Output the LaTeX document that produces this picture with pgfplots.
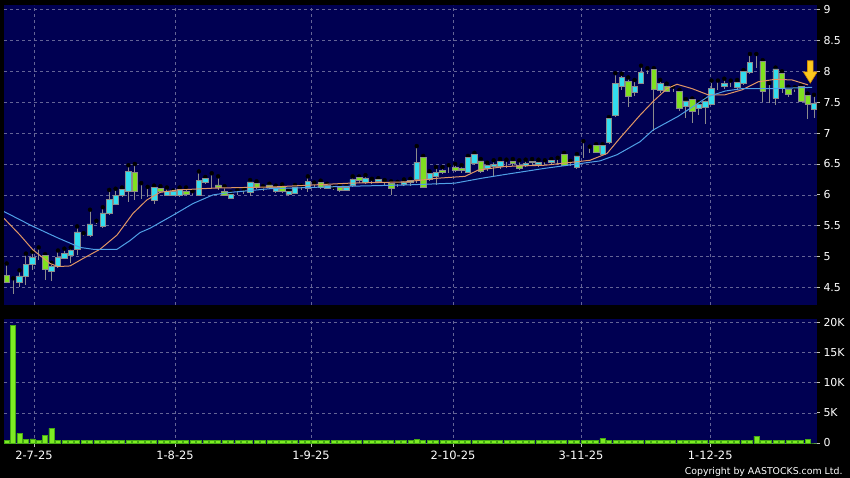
\documentclass[border=0pt]{standalone}
\usepackage{pgfplots}
\pgfplotsset{compat=1.18}
\usepackage{pgfplotstable}
\usepackage{fontspec}
\setmainfont{DejaVu Sans}

\definecolor{navybg}{RGB}{0,0,82}
\definecolor{gridcol}{RGB}{100,100,150}
\definecolor{upcol}{RGB}{51,221,238}
\definecolor{dncol}{RGB}{128,224,32}
\definecolor{edgegray}{RGB}{140,140,140}
\definecolor{wickgray}{RGB}{140,140,140}
\definecolor{tickcol}{RGB}{190,190,190}
\definecolor{maten}{RGB}{225,150,100}
\definecolor{matwenty}{RGB}{80,160,230}
\definecolor{volgreen}{RGB}{125,235,35}
\definecolor{voledge}{RGB}{70,170,20}
\definecolor{arrowfill}{RGB}{250,200,30}
\definecolor{arrowedge}{RGB}{215,140,0}

% daily candles: index, open, high, low, close
\pgfplotstableread{
i o h l c
0 4.70 4.89 4.57 4.59
1 4.57 4.65 4.40 4.57
2 4.59 4.78 4.51 4.69
3 4.69 5.05 4.54 4.88
4 4.88 5.08 4.78 4.99
5 5.02 5.15 4.95 5.02
6 5.02 5.04 4.62 4.80
7 4.76 4.90 4.61 4.84
8 4.84 5.10 4.82 4.99
9 4.98 5.13 4.96 5.05
10 5.02 5.15 4.90 5.10
11 5.12 5.49 5.02 5.40
12 5.35 5.38 5.33 5.35
13 5.34 5.76 5.32 5.53
14 5.55 5.58 5.53 5.55
15 5.49 5.80 5.47 5.71
16 5.70 6.08 5.68 5.93
17 5.85 6.10 5.83 5.99
18 5.99 6.12 5.97 6.09
19 6.06 6.48 5.89 6.38
20 6.37 6.50 5.92 6.06
21 6.05 6.19 5.94 6.05
22 6.03 6.13 5.97 6.03
23 5.91 6.15 5.86 6.12
24 6.11 6.14 6.04 6.06
25 6.00 6.12 5.98 6.05
26 6.00 6.07 5.98 6.05
27 6.00 6.12 5.97 6.09
28 6.06 6.12 5.99 6.01
29 6.03 6.06 6.00 6.03
30 6.00 6.38 5.98 6.23
31 6.20 6.29 6.18 6.27
32 6.19 6.35 6.11 6.19
33 6.16 6.30 6.08 6.12
34 6.06 6.14 5.98 6.00
35 5.95 6.04 5.93 6.01
36 6.04 6.08 6.00 6.04
37 6.05 6.10 6.02 6.05
38 6.04 6.24 5.98 6.21
39 6.18 6.22 6.10 6.12
40 6.10 6.14 6.07 6.10
41 6.16 6.18 6.10 6.13
42 6.05 6.15 6.03 6.12
43 6.14 6.17 6.03 6.06
44 6.01 6.08 5.98 6.06
45 6.03 6.16 6.01 6.13
46 6.13 6.15 6.08 6.13
47 6.11 6.30 6.05 6.22
48 6.16 6.20 6.12 6.16
49 6.20 6.23 6.10 6.12
50 6.11 6.18 6.09 6.15
51 6.11 6.13 6.08 6.11
52 6.12 6.15 6.05 6.08
53 6.08 6.14 6.06 6.12
54 6.15 6.30 6.13 6.25
55 6.28 6.30 6.20 6.24
56 6.20 6.32 6.18 6.27
57 6.21 6.26 6.18 6.21
58 6.22 6.27 6.19 6.25
59 6.20 6.24 6.15 6.20
60 6.18 6.22 6.00 6.11
61 6.17 6.21 6.12 6.17
62 6.17 6.25 6.14 6.21
63 6.20 6.26 6.15 6.24
64 6.25 6.79 6.20 6.53
65 6.61 6.63 6.12 6.13
66 6.25 6.38 6.22 6.35
67 6.30 6.45 6.16 6.37
68 6.40 6.45 6.34 6.37
69 6.42 6.48 6.36 6.42
70 6.45 6.50 6.37 6.39
71 6.43 6.48 6.35 6.40
72 6.37 6.63 6.35 6.61
73 6.51 6.68 6.49 6.66
74 6.55 6.58 6.36 6.38
75 6.43 6.52 6.38 6.48
76 6.46 6.56 6.29 6.49
77 6.46 6.58 6.42 6.54
78 6.49 6.57 6.44 6.49
79 6.54 6.58 6.46 6.51
80 6.48 6.56 6.40 6.43
81 6.48 6.57 6.45 6.51
82 6.54 6.58 6.47 6.52
83 6.50 6.57 6.45 6.53
84 6.52 6.56 6.48 6.52
85 6.53 6.58 6.50 6.56
86 6.52 6.60 6.49 6.52
87 6.66 6.68 6.46 6.48
88 6.51 6.55 6.46 6.51
89 6.44 6.66 6.42 6.63
90 6.66 6.87 6.60 6.66
91 6.74 6.78 6.68 6.74
92 6.80 6.82 6.67 6.69
93 6.66 6.82 6.64 6.80
94 6.85 7.26 6.83 7.24
95 7.28 7.97 7.26 7.81
96 7.75 7.96 7.70 7.90
97 7.84 7.90 7.43 7.59
98 7.66 7.86 7.60 7.76
99 7.81 8.09 7.79 7.98
100 8.02 8.05 7.95 8.02
101 8.03 8.05 7.03 7.71
102 7.70 7.86 7.65 7.81
103 7.76 7.80 7.66 7.68
104 7.70 7.75 7.66 7.70
105 7.67 7.70 7.35 7.40
106 7.43 7.55 7.25 7.52
107 7.54 7.56 7.16 7.36
108 7.40 7.50 7.30 7.47
109 7.42 7.56 7.15 7.51
110 7.47 7.85 7.45 7.72
111 7.77 7.85 7.70 7.77
112 7.76 7.88 7.72 7.81
113 7.79 7.85 7.74 7.79
114 7.74 7.86 7.70 7.82
115 7.81 8.02 7.78 8.00
116 7.99 8.28 7.95 8.14
117 8.15 8.28 8.05 8.15
118 8.16 8.18 7.51 7.68
119 7.62 7.81 7.48 7.62
120 7.56 8.06 7.45 8.04
121 7.97 8.00 7.65 7.72
122 7.71 7.75 7.58 7.62
123 7.71 7.74 7.66 7.71
124 7.75 7.77 7.50 7.51
125 7.61 7.64 7.22 7.47
126 7.38 7.62 7.24 7.48
}\ohlc

% volume (shares)
\pgfplotstableread{
i v
0 400
1 19500
2 1600
3 600
4 700
5 380
6 1270
7 2430
8 380
9 380
10 380
11 380
12 380
13 380
14 380
15 380
16 380
17 380
18 380
19 380
20 380
21 380
22 380
23 380
24 380
25 380
26 380
27 380
28 380
29 380
30 380
31 380
32 380
33 380
34 380
35 380
36 380
37 380
38 380
39 380
40 380
41 380
42 380
43 380
44 380
45 380
46 380
47 380
48 380
49 380
50 380
51 380
52 380
53 380
54 380
55 380
56 380
57 380
58 380
59 380
60 380
61 380
62 380
63 380
64 600
65 450
66 380
67 380
68 380
69 380
70 380
71 380
72 380
73 380
74 380
75 380
76 380
77 380
78 380
79 380
80 380
81 380
82 380
83 380
84 380
85 380
86 380
87 380
88 380
89 380
90 380
91 380
92 380
93 710
94 380
95 380
96 380
97 380
98 380
99 380
100 380
101 380
102 380
103 380
104 380
105 380
106 380
107 380
108 380
109 380
110 380
111 380
112 380
113 380
114 380
115 380
116 380
117 1160
118 380
119 380
120 380
121 380
122 380
123 380
124 380
125 610
126 0
}\vol

% moving averages
\pgfplotstableread{
i m
-0.42 5.62
2.08 5.35
4.10 5.11
6.76 4.89
8.01 4.84
9.88 4.85
11.91 4.97
14.56 5.12
17.22 5.35
19.71 5.70
21.90 5.92
23.92 6.04
26.74 6.08
32.51 6.11
41.88 6.13
53.58 6.19
62.17 6.21
67.32 6.27
71.53 6.30
73.56 6.40
77.77 6.46
84.02 6.48
91.04 6.56
93.70 6.67
95.72 6.92
98.85 7.29
100.88 7.51
103.06 7.72
104.62 7.79
106.96 7.72
109.46 7.62
112.11 7.62
114.77 7.70
117.27 7.83
119.92 7.87
122.57 7.86
125.07 7.78
}\maten

\pgfplotstableread{
i m
-0.42 5.73
4.10 5.49
7.85 5.31
11.44 5.15
13.47 5.12
17.22 5.12
19.24 5.26
20.80 5.39
22.37 5.46
25.95 5.67
29.08 5.86
32.20 6.00
34.85 6.04
41.10 6.10
53.58 6.14
62.17 6.16
69.97 6.19
74.18 6.27
77.77 6.33
84.02 6.43
92.60 6.55
95.26 6.65
98.85 6.86
100.88 7.05
104.78 7.27
109.46 7.59
112.11 7.68
114.77 7.72
119.92 7.72
125.69 7.74
}\matwenty

\pgfplotsset{
  panel/.style={scale only axis, width=813bp, anchor=south west,
    xmin=-0.42, xmax=126.47},
  pricepanel/.style={panel, at={(4bp,173bp)}, height=300bp,
    ymin=4.218, ymax=9.073},
}

\begin{document}
\begin{tikzpicture}
\path[use as bounding box, fill=black] (0,0) rectangle (850bp,478bp);

% price panel: background, grid, wicks
\begin{axis}[pricepanel,
  axis background/.style={fill=navybg},
  axis line style={draw=none},
  xtick={4.26,26.27,47.5,69.66,89.64,109.8}, xticklabels={},
  xtick style={draw=none},
  ytick={4.5,5,5.5,6,6.5,7,7.5,8,8.5,9},
  yticklabels={4.5,5,5.5,6,6.5,7,7.5,8,8.5,9},
  ytick pos=right, yticklabel pos=right,
  tick align=outside, major tick length=3bp,
  ytick style={draw=tickcol, line width=0.8bp},
  yticklabel style={font=\fontsize{11}{13}\selectfont, text=white},
  grid=major,
  grid style={draw=gridcol, line width=0.6bp, dash pattern=on 3bp off 3bp},
]
\addplot[only marks, mark=none,
  error bars/.cd, y dir=minus, y explicit, error mark=none,
  error bar style={draw=wickgray, line width=0.9bp}]
  table[x=i, y=h, y error expr=\thisrow{h}-\thisrow{l}] {\ohlc};
\end{axis}

% candle bodies
\begin{axis}[pricepanel, hide axis, ybar stacked, bar width=0.86]
\addplot[draw=none, fill=none]
  table[x=i, y expr={min(\thisrow{o},\thisrow{c})}] {\ohlc};
\addplot[fill=upcol, draw=edgegray, line width=0.6bp]
  table[x=i, y expr={max(\thisrow{c}-\thisrow{o},0)}] {\ohlc};
\addplot[fill=dncol, draw=edgegray, line width=0.6bp]
  table[x=i, y expr={max(\thisrow{o}-\thisrow{c},0)}] {\ohlc};
\end{axis}

% moving averages and marker arrow
\begin{axis}[pricepanel, hide axis]
\addplot[maten, line width=1bp, no markers] table[x=i, y=m] {\maten};
\addplot[matwenty, line width=1bp, no markers] table[x=i, y=m] {\matwenty};
\filldraw[fill=arrowfill, draw=arrowedge, line width=0.6bp]
  (axis cs:124.98,8.17) -- (axis cs:125.86,8.17) -- (axis cs:125.86,7.99)
  -- (axis cs:126.51,7.99) -- (axis cs:125.42,7.81) -- (axis cs:124.33,7.99)
  -- (axis cs:124.98,7.99) -- cycle;
\end{axis}

% volume panel
\begin{axis}[panel, at={(4bp,34bp)}, height=125bp,
  ymin=-165, ymax=20545,
  axis background/.style={fill=navybg},
  axis line style={draw=none},
  xtick={4.26,26.27,47.5,69.66,89.64,109.8},
  xticklabels={2-7-25,1-8-25,1-9-25,2-10-25,3-11-25,1-12-25},
  xtick pos=left,
  ytick={0,5000,10000,15000,20000},
  yticklabels={0,5K,10K,15K,20K},
  scaled y ticks=false,
  ytick pos=right, yticklabel pos=right,
  tick align=outside, major tick length=3bp,
  tick style={draw=tickcol, line width=0.8bp},
  yticklabel style={font=\fontsize{11}{13}\selectfont, text=white},
  xticklabel style={font=\fontsize{11.5}{13}\selectfont, text=white},
  grid=major,
  grid style={draw=gridcol, line width=0.6bp, dash pattern=on 3bp off 3bp},
  ybar, bar width=0.8,
]
\addplot[fill=volgreen, draw=voledge, line width=0.5bp]
  table[x=i, y=v] {\vol};
\end{axis}

\node[anchor=base east, text=white, font=\fontsize{9.4}{11}\selectfont]
  at (846bp,4bp) {Copyright by AASTOCKS.com Ltd.};
\end{tikzpicture}
\end{document}
